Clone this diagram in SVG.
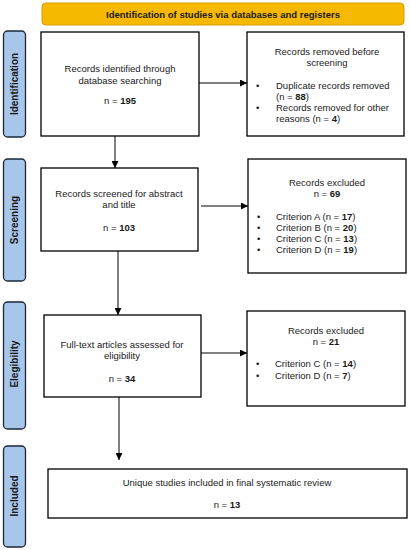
<svg xmlns="http://www.w3.org/2000/svg" width="410" height="550" viewBox="0 0 410 550">
<defs>
<marker id="ah" viewBox="0 0 10 10" refX="10" refY="5" markerWidth="7" markerHeight="7" markerUnits="userSpaceOnUse" orient="auto"><path d="M0,0 L10,5 L0,10 z" fill="#000"/></marker>
<style>
.box{fill:#fff;stroke:#000;stroke-width:1.3}
.tab{fill:#a7c6ea;stroke:#1e2733;stroke-width:1.3}
.banner{fill:#f6b900;stroke:#d99c00;stroke-width:1}
text{font-family:"Liberation Sans",Arial,sans-serif;font-size:9.5px;fill:#1a1a1a}
.c{text-anchor:middle}
.b{font-weight:bold}
.tl{font-weight:bold;font-size:10px;text-anchor:middle}
.ln{stroke:#000;stroke-width:1;fill:none}
</style>
</defs>
<rect width="410" height="550" fill="#fff"/>
<g id="banner"><rect class="banner" x="42" y="3" width="362" height="22" rx="4"/><text class="c b" x="223" y="18">Identification of studies via databases and registers</text></g>
<g id="tab-identification"><rect class="tab" x="3.5" y="31" width="22" height="106" rx="4"/><text class="tl" transform="translate(18,84) rotate(-90)">Identification</text></g>
<g id="tab-screening"><rect class="tab" x="3.5" y="159" width="22" height="122" rx="4"/><text class="tl" transform="translate(18,220) rotate(-90)">Screening</text></g>
<g id="tab-eligibility"><rect class="tab" x="3.5" y="302" width="22" height="127" rx="4"/><text class="tl" transform="translate(18,364) rotate(-90)">Elegibility</text></g>
<g id="tab-included"><rect class="tab" x="3.5" y="446" width="22" height="101" rx="4"/><text class="tl" transform="translate(18,496) rotate(-90)">Included</text></g>
<g id="n1"><rect class="box" x="41" y="32" width="158" height="104"/>
<text class="c" x="120" y="72">Records identified through</text>
<text class="c" x="120" y="84">database searching</text>
<text class="c" x="120" y="104">n = <tspan class="b">195</tspan></text></g>
<g id="n1r"><rect class="box" x="247" y="32" width="157" height="104"/>
<text class="c" x="327" y="55">Records removed before</text>
<text class="c" x="327" y="66">screening</text>
<text x="256" y="89">•</text><text x="276" y="89">Duplicate records removed</text>
<text x="276" y="100">(n = <tspan class="b">88</tspan>)</text>
<text x="256" y="111">•</text><text x="276" y="111">Records removed for other</text>
<text x="276" y="122">reasons (n = <tspan class="b">4</tspan>)</text></g>
<g id="n2"><rect class="box" x="41" y="168" width="157" height="83"/>
<text class="c" x="119" y="197">Records screened for abstract</text>
<text class="c" x="119" y="208">and title</text>
<text class="c" x="119" y="231">n = <tspan class="b">103</tspan></text></g>
<g id="n2r"><rect class="box" x="248" y="159" width="158" height="114"/>
<text class="c" x="327" y="186">Records excluded</text>
<text class="c" x="327" y="197">n = <tspan class="b">69</tspan></text>
<text x="257" y="220">•</text><text x="276" y="220">Criterion A (n = <tspan class="b">17</tspan>)</text>
<text x="257" y="231">•</text><text x="276" y="231">Criterion B (n = <tspan class="b">20</tspan>)</text>
<text x="257" y="242">•</text><text x="276" y="242">Criterion C (n = <tspan class="b">13</tspan>)</text>
<text x="257" y="253">•</text><text x="276" y="253">Criterion D (n = <tspan class="b">19</tspan>)</text></g>
<g id="n3"><rect class="box" x="44" y="315" width="157" height="82"/>
<text class="c" x="122" y="348">Full-text articles assessed for</text>
<text class="c" x="122" y="359">eligibility</text>
<text class="c" x="122" y="382">n = <tspan class="b">34</tspan></text></g>
<g id="n3r"><rect class="box" x="247" y="311" width="158" height="95"/>
<text class="c" x="326" y="334">Records excluded</text>
<text class="c" x="326" y="345">n = <tspan class="b">21</tspan></text>
<text x="256" y="367">•</text><text x="275" y="367">Criterion C (n = <tspan class="b">14</tspan>)</text>
<text x="256" y="379">•</text><text x="275" y="379">Criterion D (n = <tspan class="b">7</tspan>)</text></g>
<g id="n4"><rect class="box" x="48" y="469" width="359" height="49"/>
<text class="c" x="227" y="486">Unique studies included in final systematic review</text>
<text class="c" x="227" y="508">n = <tspan class="b">13</tspan></text></g>
<g id="connectors">
<line class="ln" x1="199" y1="83" x2="247" y2="83" marker-end="url(#ah)"/>
<line class="ln" x1="115" y1="136" x2="115" y2="168" marker-end="url(#ah)"/>
<line class="ln" x1="201" y1="206" x2="248" y2="206" marker-end="url(#ah)"/>
<line class="ln" x1="118" y1="251" x2="118" y2="315" marker-end="url(#ah)"/>
<line class="ln" x1="201" y1="353" x2="247" y2="353" marker-end="url(#ah)"/>
<line class="ln" x1="119" y1="397" x2="119" y2="460" marker-end="url(#ah)"/>
</g>
</svg>
